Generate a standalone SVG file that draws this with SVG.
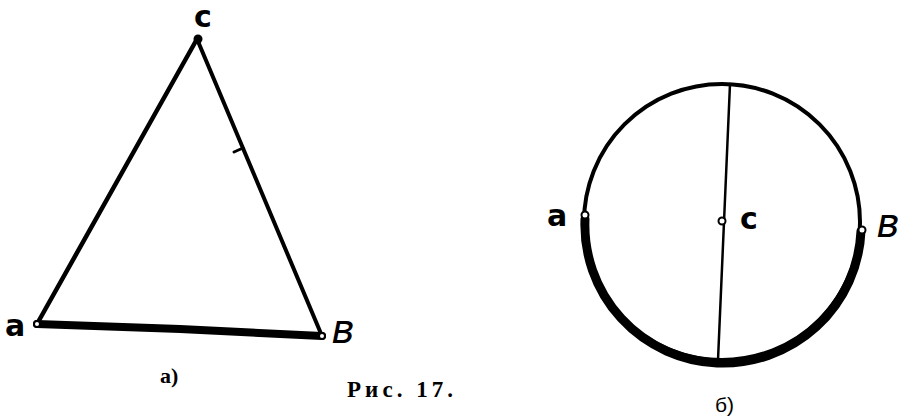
<svg xmlns="http://www.w3.org/2000/svg" width="900" height="417" viewBox="0 0 900 417">
<style>
.ln{stroke:#000;fill:none;stroke-linecap:round;stroke-linejoin:round}
.pt{fill:#fff;stroke:#000;stroke-width:2}
.hand{font-family:"DejaVu Sans",sans-serif;font-size:30px;font-weight:bold;fill:#000}
.bb{font-style:italic;font-size:40px;font-weight:normal}
.cap{font-family:"Liberation Serif",serif;font-weight:bold;fill:#000}
</style>
<rect width="900" height="417" fill="#fff"/>
<g id="connectors">
  <line class="ln" x1="197" y1="39" x2="37" y2="324" stroke-width="4.5"/>
  <line class="ln" x1="197" y1="39" x2="322" y2="336" stroke-width="4"/>
  <path class="ln" d="M37 324 L180 329 L322 336" stroke-width="8"/>
  <line class="ln" x1="234" y1="152" x2="243" y2="148" stroke-width="3"/>
  <circle class="ln" cx="722" cy="222" r="138" stroke-width="4"/>
  <path class="ln" d="M585 219 A138 138 0 0 0 861 231" stroke-width="9"/>
  <line class="ln" x1="730" y1="84" x2="718" y2="360" stroke-width="2.5"/>
</g>
<g id="node-tri-c">
  <circle cx="198" cy="39" r="4.5" fill="#000"/>
  <text class="hand" x="203" y="27" text-anchor="middle">с</text>
</g>
<g id="node-tri-a">
  <circle class="pt" cx="37" cy="324" r="3"/>
  <text class="hand" x="15" y="336" text-anchor="middle">а</text>
</g>
<g id="node-tri-b">
  <circle class="pt" cx="322" cy="336" r="3"/>
  <text class="hand bb" x="343" y="343" text-anchor="middle">в</text>
</g>
<g id="node-circ-a">
  <circle class="pt" cx="585" cy="215" r="3.5"/>
  <text class="hand" x="557" y="226" text-anchor="middle">а</text>
</g>
<g id="node-circ-c">
  <circle class="pt" cx="722" cy="221" r="3.5"/>
  <text class="hand" x="749" y="229" text-anchor="middle">с</text>
</g>
<g id="node-circ-b">
  <circle class="pt" cx="862" cy="230" r="3.5"/>
  <text class="hand bb" x="888" y="237" text-anchor="middle">в</text>
</g>
<g id="captions">
  <text class="cap" x="160" y="383" font-size="22">а)</text>
  <text class="cap" x="347" y="397" font-size="23" textLength="106">Рис. 17.</text>
  <text x="715" y="412" font-family="Liberation Sans,sans-serif" font-size="21" fill="#000">б)</text>
</g>
</svg>
